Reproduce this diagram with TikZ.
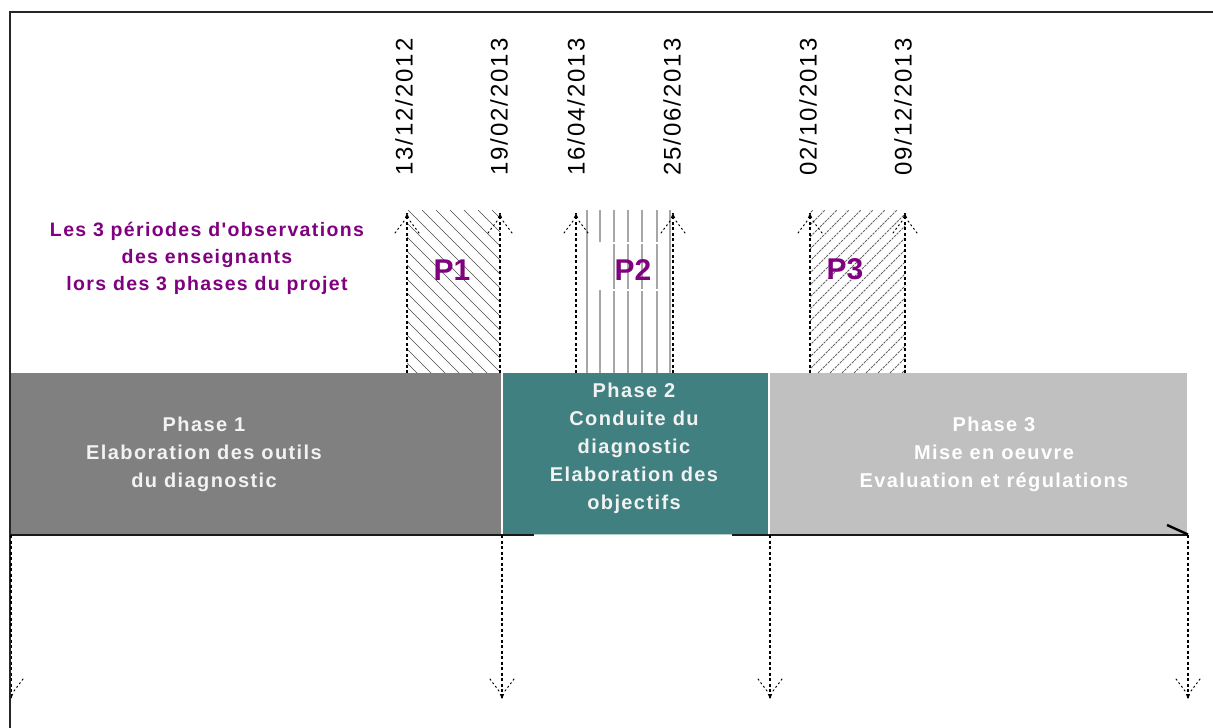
\documentclass[tikz,border=0pt]{standalone}
\usepackage{fontspec}
\setmainfont{Liberation Sans}
\newfontfamily\spacedfont[LetterSpace=7]{Liberation Sans}
\newfontfamily\datefont[LetterSpace=8]{Liberation Sans}
\definecolor{phaseone}{HTML}{808080}
\definecolor{phasetwo}{HTML}{408080}
\definecolor{phasethree}{HTML}{C0C0C0}
\definecolor{purp}{HTML}{800080}
\definecolor{phtext}{HTML}{F2F2F2}
\begin{document}
\begin{tikzpicture}[x=1pt,y=-1pt,
  dasharrow/.style={draw=black, line width=1.1pt, dash pattern=on 3pt off 2.5pt},
  barbline/.style={draw=black, line width=1pt, dash pattern=on 1.5pt off 3pt, line cap=round},
  phasetxt/.style={font=\spacedfont\bfseries\fontsize{20}{28}\selectfont, align=center, inner sep=0pt, text=phtext},
  datetxt/.style={font=\datefont\fontsize{24}{28}\selectfont, rotate=90, anchor=west, inner sep=0pt},
  plabel/.style={font=\bfseries\fontsize{30}{34}\selectfont, text=purp, inner sep=0pt},
  uphead/.pic={\fill (0,0) -- (-2.2,5) -- (2.2,5) -- cycle;
     \draw[barbline] (-3,8) -- (-12,20); \draw[barbline] (3,8) -- (12,20);},
  downhead/.pic={\fill (0,0) -- (-2.2,-5) -- (2.2,-5) -- cycle;
     \draw[barbline] (-3,-8) -- (-12,-20); \draw[barbline] (3,-8) -- (12,-20);}
]
\useasboundingbox (0,0) rectangle (1213,728);
\fill[white] (0,0) rectangle (1213,728);

% frame
\draw[line width=1.6pt, black!85] (10,728) -- (10,12) -- (1213,12);

% phase boxes
\fill[phaseone] (11,373) rectangle (501,534);
\fill[phasetwo] (502.5,373) rectangle (768,534);
\fill[phasethree] (769.5,373) rectangle (1187,534);

% baseline
\coordinate (bl0) at (11,534.5);
\coordinate (bl1) at (534,534.5);
\coordinate (bl2) at (732,534.5);
\coordinate (bl3) at (1188,534.5);
\coordinate (tick) at (1167,525);
\draw[line width=2pt, black!90] (bl0) -- (bl1);
\draw[line width=2pt, black!90] (bl2) -- (bl3);
\draw[line width=1pt, phasetwo!40] (bl1) -- (bl2);
\draw[line width=2.4pt, black] (tick) -- (bl3);

% hatching P1
\begin{scope}
\clip (407,210) rectangle (500,373);
\foreach \i in {0,...,20} {
  \draw[black!70, line width=0.7pt] (240+\i*14,210) -- (240+\i*14+163,373);
}
\end{scope}
% hatching P2
\foreach \xx in {587,670} {
  \draw[black!35, line width=1.8pt] (\xx,210) -- (\xx,373);
}
\draw[black!35, line width=1.8pt] (600,210) -- (600,242);
\draw[black!35, line width=1.8pt] (600,290) -- (600,373);
\foreach \xx in {614,628,642,657} {
  \draw[black!35, line width=1.8pt] (\xx,210) -- (\xx,242);
  \draw[black!35, line width=1.8pt] (\xx,244) -- (\xx,289);
  \draw[black!35, line width=1.8pt] (\xx,291) -- (\xx,373);
}
% hatching P3
\begin{scope}
\clip (810,210) rectangle (905,373);
\foreach \i in {0,...,24} {
  \draw[black!60, line width=0.8pt, dash pattern=on 2.5pt off 1pt] (650+\i*12,373) -- (650+\i*12+163,210);
}
\end{scope}

% top arrows (observation periods)
\foreach \n/\xx in {a/407,b/500,c/576,d/673,e/810,f/905} {
  \coordinate (top\n) at (\xx,213);
  \coordinate (bot\n) at (\xx,373);
  \draw[dasharrow] (bot\n) -- (top\n);
  \pic at (top\n) {uphead};
}

% bottom arrows
\foreach \n/\xx in {a/11,b/502,c/770,d/1188} {
  \coordinate (ds\n) at (\xx,535);
  \coordinate (de\n) at (\xx,699);
  \draw[dasharrow] (ds\n) -- (de\n);
  \pic at (de\n) {downhead};
}
\fill[white] (0,660) rectangle (9.2,728);
\draw[line width=1.6pt, black!85] (10,640) -- (10,728);

% dates
\node[datetxt] (d1) at (404,176) {13/12/2012};
\node[datetxt] (d2) at (499,176) {19/02/2013};
\node[datetxt] (d3) at (576,176) {16/04/2013};
\node[datetxt] (d4) at (672,176) {25/06/2013};
\node[datetxt] (d5) at (808,176) {02/10/2013};
\node[datetxt] (d6) at (903,176) {09/12/2013};

% period labels
\node[plabel] (p1) at (452,270) {P1};
\node[plabel] (p2) at (633,270) {P2};
\node[plabel] (p3) at (845,269) {P3};

% legend text
\node[font=\spacedfont\bfseries\fontsize{19.5}{27}\selectfont, text=purp, align=center, inner sep=0pt] (legend) at (207,258)
  {Les 3 périodes d'observations\\des enseignants\\lors des 3 phases du projet};

% phase texts
\node[phasetxt] (ph1) at (204,454) {Phase 1\\Elaboration des outils\\du diagnostic};
\node[phasetxt] (ph2) at (634,448) {Phase 2\\Conduite du\\diagnostic\\Elaboration des\\objectifs};
\node[phasetxt, text=white] (ph3) at (994,454) {Phase 3\\Mise en oeuvre\\Evaluation et régulations};
\end{tikzpicture}
\end{document}
